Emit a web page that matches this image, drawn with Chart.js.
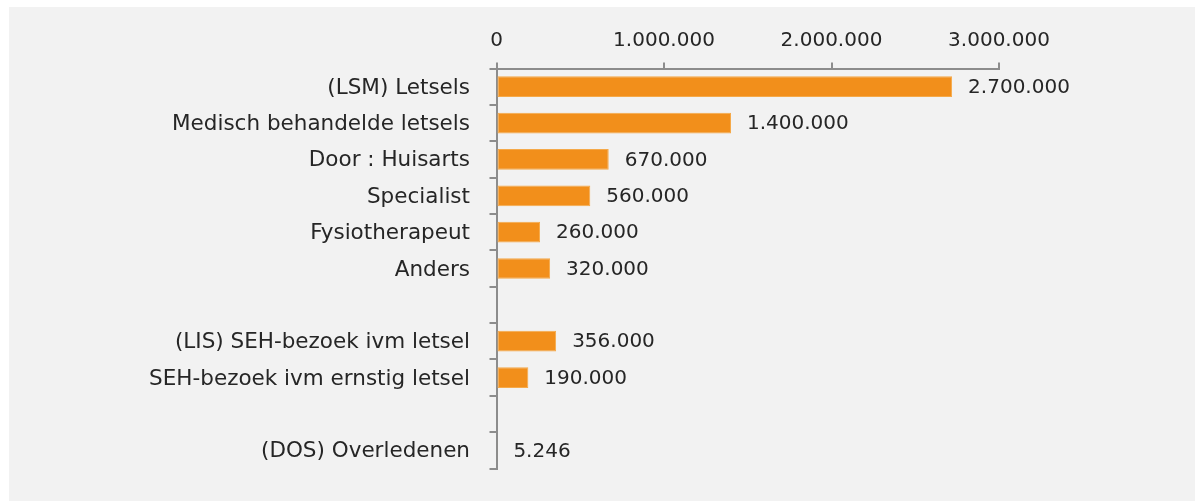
<!DOCTYPE html>
<html>
<head>
<meta charset="utf-8">
<script src="https://cdn.jsdelivr.net/npm/chart.js@4"></script>
<style>
  body { margin: 0; background: #ffffff; }
  #wrap { position: absolute; left: 9px; top: 7px; width: 1186px; height: 494px; background: #f2f2f2; }
</style>
</head>
<body>
<div id="wrap"><canvas id="letsels-chart" width="1186" height="494"></canvas></div>
<script>
// letsels.js
const categories = [
    '(LSM) Letsels',
    'Medisch behandelde letsels',
    'Door : Huisarts',
    'Specialist',
    'Fysiotherapeut',
    'Anders',
    '',
    '(LIS) SEH-bezoek ivm letsel',
    'SEH-bezoek ivm ernstig letsel',
    '',
    '(DOS) Overledenen'
];
const values = [2720000, 1400000, 670000, 560000, 260000, 320000, null, 356000, 190000, null, 5246];
const valueLabels = ['2.700.000', '1.400.000', '670.000', '560.000', '260.000', '320.000', '', '356.000', '190.000', '', '5.246'];
const xTicks = [0, 1000000, 2000000, 3000000];

const axisColor = '#8c8c8c';
const textColor = '#262626';

// 1000000 -> 1.000.000
const dotted = v => String(v).replace(/\B(?=(\d{3})+(?!\d))/g, '.');

Chart.defaults.font.family = 'DejaVu Sans';
Chart.defaults.font.size = 20;
Chart.defaults.color = textColor;

const valueLabelPlugin = {
    id: 'valueLabels',
    afterDatasetsDraw(chart) {
        const ctx = chart.ctx;
        const meta = chart.getDatasetMeta(0);
        ctx.save();
        ctx.font = '20px "DejaVu Sans"';
        ctx.fillStyle = textColor;
        ctx.textAlign = 'left';
        ctx.textBaseline = 'middle';
        meta.data.forEach((bar, i) => {
            if (values[i] === null) return;
            ctx.fillText(valueLabels[i], bar.x + 16, bar.y + 1);
        });
        ctx.restore();
    }
};

const ctx = document.getElementById('letsels-chart').getContext('2d');
new Chart(ctx, {
    type: 'bar',
    data: {
        labels: categories,
        datasets: [{
            data: values,
            backgroundColor: '#f28f1b',
            borderColor: '#f5a949',
            borderWidth: 1,
            borderSkipped: false,
            categoryPercentage: 1,
            barPercentage: 0.57
        }]
    },
    options: {
        indexAxis: 'y',
        responsive: false,
        animation: false,
        layout: {
            padding: { left: 0, right: 196, top: 0, bottom: 32.5 }
        },
        scales: {
            x: {
                position: 'top',
                min: 0,
                max: 3000000,
                afterBuildTicks: axis => {
                    axis.ticks = xTicks.map(v => ({ value: v }));
                },
                afterFit: axis => {
                    axis.height = 61.5;
                },
                ticks: {
                    padding: 9.5,
                    maxRotation: 0,
                    callback: value => dotted(value)
                },
                grid: {
                    drawOnChartArea: false,
                    drawTicks: true,
                    tickLength: 6,
                    color: axisColor,
                    lineWidth: 2
                },
                border: { color: axisColor, width: 2 }
            },
            y: {
                afterFit: axis => {
                    axis.width = 487.5;
                },
                ticks: {
                    padding: 19.5,
                    autoSkip: false,
                    labelOffset: 1.5,
                    font: { size: 21.5 }
                },
                grid: {
                    drawOnChartArea: false,
                    drawTicks: true,
                    tickLength: 7,
                    color: axisColor,
                    lineWidth: 2
                },
                border: { color: axisColor, width: 2 }
            }
        },
        plugins: {
            legend: { display: false },
            tooltip: { enabled: false }
        }
    },
    plugins: [valueLabelPlugin]
});
</script>
</body>
</html>
